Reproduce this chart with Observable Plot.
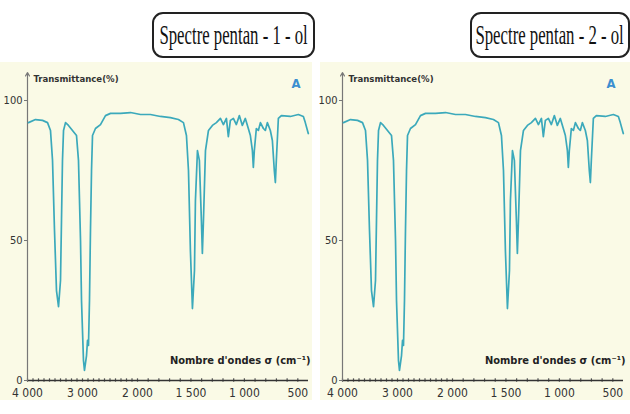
<!DOCTYPE html>
<html>
<head>
<meta charset="utf-8">
<script src="https://cdn.jsdelivr.net/npm/d3@7"></script>
<script src="https://cdn.jsdelivr.net/npm/@observablehq/plot@0.6"></script>
<style>
  body { margin: 0; background: #ffffff; }
  #wrap { position: relative; width: 630px; height: 414px; overflow: hidden; background: #fff; }
  .panel { position: absolute; top: 0; width: 315px; height: 414px; }
  .bg { position: absolute; top: 62px; height: 338px; background: #fafae6; }
  .title { position: absolute; top: 12px; height: 42px; border: 2px solid #222; border-radius: 11px; background: #fff;
           display: flex; align-items: center; justify-content: center; overflow: visible; }
  .title span { display: inline-block; font-family: "Liberation Serif", "DejaVu Serif", serif; font-size: 27px; color: #111;
                white-space: nowrap; transform: scaleX(0.62); transform-origin: center; }
  .chart { position: absolute; top: 60px; left: 0; }
</style>
</head>
<body>
<div id="wrap"></div>
<script>
// Wavenumber (cm^-1) and transmittance (%)
const sigma = [3982, 3855, 3727, 3636, 3582, 3545, 3509, 3473, 3436, 3400, 3382, 3364, 3345, 3309, 3255, 3182, 3109, 3073,
  3036, 3018, 2982, 2964, 2927, 2909, 2891, 2873, 2855, 2836, 2818, 2764, 2673, 2582, 2491, 2309, 2127, 1972, 1879, 1785,
  1692, 1617, 1570, 1542, 1523, 1505, 1486, 1467, 1458, 1439, 1421, 1402, 1393, 1383, 1364, 1336, 1299, 1262, 1224, 1196,
  1168, 1150, 1131, 1103, 1075, 1047, 1019, 991, 963, 944, 925, 916, 907, 888, 869, 850, 822, 804, 785, 757, 738, 720,
  710, 701, 682, 654, 570, 495, 448, 430, 402];
const transmittance = [92.1, 93.2, 92.9, 92.1, 89.3, 78.6, 53.6, 32.1, 26.4, 35.7, 57.1, 78.6, 89.3, 92.1, 91.1, 89.3, 87.5, 78.6,
  50.0, 28.6, 7.1, 3.6, 8.9, 14.3, 12.5, 28.6, 53.6, 75.0, 87.5, 90.0, 91.4, 94.6, 95.4, 95.4, 95.7, 95.0, 95.0, 94.3,
  93.9, 93.2, 92.1, 87.5, 75.0, 46.4, 25.7, 39.3, 64.3, 82.1, 78.6, 57.1, 45.4, 57.1, 82.1, 89.3, 91.1, 92.1, 93.6, 91.4,
  93.6, 87.1, 92.9, 93.6, 91.4, 94.6, 91.1, 93.6, 90.0, 87.5, 82.1, 76.1, 82.1, 90.0, 89.3, 92.1, 90.0, 89.3, 92.1, 89.3, 85.7, 75.0,
  70.7, 78.6, 93.6, 94.6, 94.3, 95.0, 94.3, 92.1, 88.2];

const xTickValues = [4000, 3000, 2000, 1500, 1000, 500];
const xTickLabels = ["4 000", "3 000", "2 000", "1 500", "1 000", "500"];
const xMinorTicks = d3.range(500, 4001, 100);
const yTickValues = [0, 50, 100];
const yTickLabels = ["0", "50", "100"];
const panelTitles = ["Spectre pentan - 1 - ol", "Spectre pentan - 2 - ol"];
const yLabel = "Transmittance(%)";
const xLabel = "Nombre d'ondes σ (cm⁻¹)";
const cornerMark = "A";
const xBreaks = [4000, 2000, 400];   // IR scale change at 2000 cm^-1
const yTop = 110;

const spectrum = sigma.map((s, i) => ({sigma: s, T: transmittance[i]}));

const panelLayout = [
  {left: 0, bgLeft: 0, bgWidth: 312, titleLeft: 152, titleWidth: 159},
  {left: 315, bgLeft: 5, bgWidth: 310, titleLeft: 155, titleWidth: 156}
];

const narrow = "'Liberation Sans Narrow', 'DejaVu Sans Condensed', 'Roboto Condensed', 'Liberation Sans', sans-serif";
const wrap = document.getElementById("wrap");

panelTitles.forEach((title, p) => {
  const L = panelLayout[p];
  const panel = document.createElement("div");
  panel.className = "panel";
  panel.style.left = L.left + "px";

  const bg = document.createElement("div");
  bg.className = "bg";
  bg.style.left = L.bgLeft + "px";
  bg.style.width = L.bgWidth + "px";
  panel.appendChild(bg);

  const t = document.createElement("div");
  t.className = "title";
  t.style.left = L.titleLeft + "px";
  t.style.width = L.titleWidth + "px";
  const sp = document.createElement("span");
  sp.textContent = title;
  t.appendChild(sp);
  panel.appendChild(t);

  const chart = Plot.plot({
    width: 315,
    height: 350,
    marginTop: 40,
    marginBottom: 30,
    marginLeft: 27,
    marginRight: 7,
    style: {background: "transparent", fontFamily: narrow, overflow: "visible"},
    x: {type: "linear", domain: xBreaks, range: [27, 137, 308], label: null},
    y: {domain: [0, 100], label: null},
    marks: [
      Plot.ruleX(xMinorTicks, {x: d => d, y1: -0.6, y2: 0.6, stroke: "#555", strokeWidth: 1.2}),
      Plot.ruleY([0], {stroke: "#333", strokeWidth: 1.6}),
      Plot.arrow([yTop], {x1: xBreaks[0], y1: 0, x2: xBreaks[0], y2: d => d, stroke: "#777", strokeWidth: 1.2, headLength: 5, bend: false}),
      Plot.axisX({ticks: xTickValues, tickFormat: (d) => xTickLabels[xTickValues.indexOf(d)], tickSize: 0, tickPadding: 8,
                  fontSize: 12, fill: "#333", stroke: null, label: null}),
      Plot.axisY({ticks: yTickValues, tickFormat: (d) => yTickLabels[yTickValues.indexOf(d)], tickSize: 3, tickPadding: 2,
                  fontSize: 11, fill: "#333", stroke: "#777", label: null}),
      Plot.text([yLabel], {frameAnchor: "top-left", dx: 6, dy: -25, fontSize: 9.5, fontWeight: "bold", fill: "#333", textAnchor: "start"}),
      Plot.text([cornerMark], {frameAnchor: "top-right", dx: -8, dy: -22, fontSize: 13, fontWeight: "bold", fill: "#3b8fd0"}),
      Plot.text([xLabel], {frameAnchor: "bottom-right", dx: 2, dy: -17, fontSize: 11, fontWeight: "bold", fill: "#222", textAnchor: "end", letterSpacing: "-0.3px"}),
      Plot.line(spectrum, {x: "sigma", y: "T", stroke: "#3ba9bb", strokeWidth: 1.7, curve: "linear"})
    ]
  });
  chart.classList.add("chart");
  panel.appendChild(chart);
  wrap.appendChild(panel);
});
</script>
</body>
</html>
